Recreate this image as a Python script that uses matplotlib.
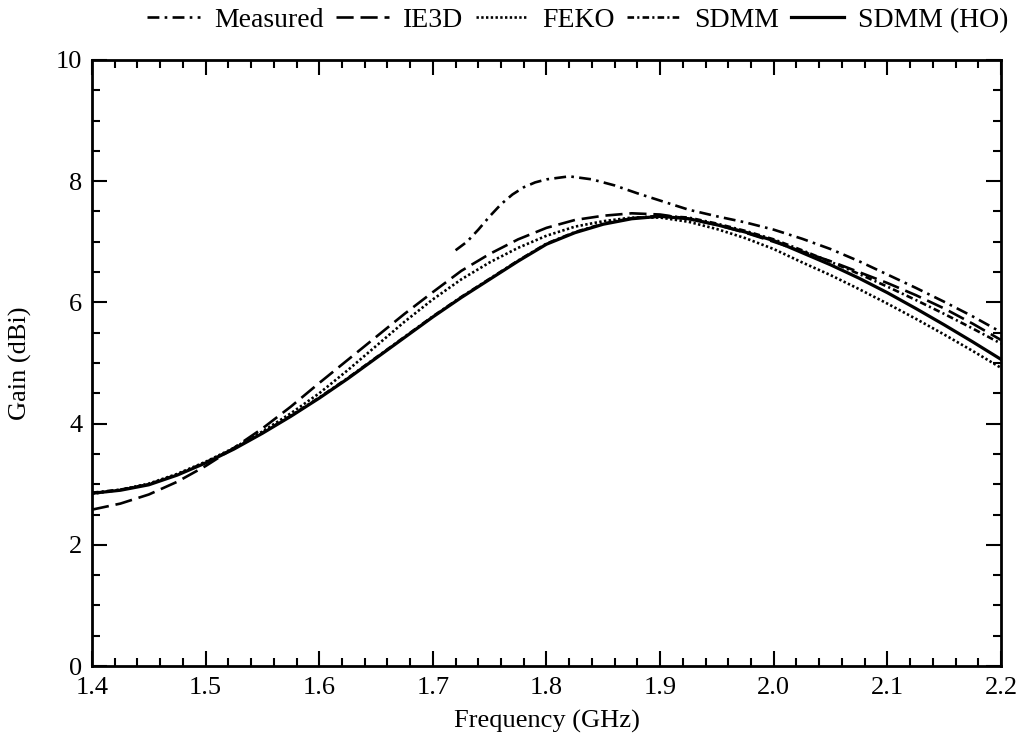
import numpy as np
import matplotlib
matplotlib.use("Agg")
import matplotlib.pyplot as plt
from matplotlib.ticker import MultipleLocator

plt.rcParams['font.family'] = ['Liberation Serif', 'DejaVu Serif']
plt.rcParams['mathtext.fontset'] = 'stix'

# frequencia (GHz) para las simulaciones
freq = [1.400, 1.425, 1.450, 1.475, 1.500, 1.525, 1.550, 1.575, 1.600, 1.625,
        1.650, 1.675, 1.700, 1.725, 1.750, 1.775, 1.800, 1.825, 1.850, 1.875,
        1.900, 1.925, 1.950, 1.975, 2.000, 2.025, 2.050, 2.075, 2.100, 2.125,
        2.150, 2.175, 2.200]

ie3d = [2.58, 2.68, 2.83, 3.04, 3.30, 3.60, 3.92, 4.28, 4.67, 5.05,
        5.43, 5.81, 6.17, 6.52, 6.80, 7.04, 7.23, 7.36, 7.43, 7.47,
        7.45, 7.38, 7.28, 7.15, 7.00, 6.84, 6.68, 6.50, 6.32, 6.12,
        5.90, 5.65, 5.38]

feko = [2.84, 2.91, 3.01, 3.17, 3.37, 3.60, 3.87, 4.17, 4.50, 4.88,
        5.28, 5.68, 6.05, 6.38, 6.66, 6.90, 7.10, 7.25, 7.34, 7.40,
        7.40, 7.33, 7.21, 7.06, 6.88, 6.66, 6.45, 6.22, 5.98, 5.73,
        5.47, 5.20, 4.92]

sdmm = [2.86, 2.91, 3.00, 3.16, 3.36, 3.59, 3.85, 4.13, 4.43, 4.75,
        5.09, 5.43, 5.77, 6.09, 6.39, 6.69, 6.97, 7.16, 7.30, 7.39,
        7.43, 7.40, 7.30, 7.18, 7.04, 6.86, 6.67, 6.47, 6.26, 6.04,
        5.81, 5.57, 5.32]

sdmm_ho = [2.85, 2.90, 2.99, 3.15, 3.35, 3.58, 3.84, 4.12, 4.42, 4.74,
           5.08, 5.42, 5.76, 6.08, 6.38, 6.68, 6.96, 7.15, 7.29, 7.38,
           7.42, 7.38, 7.28, 7.16, 7.02, 6.82, 6.62, 6.40, 6.16, 5.90,
           5.63, 5.35, 5.06]

freq_med = [1.72, 1.73, 1.74, 1.75, 1.76, 1.77, 1.78, 1.79, 1.80, 1.82,
            1.84, 1.86, 1.88, 1.90, 1.925, 1.95, 1.975, 2.00, 2.025, 2.05,
            2.075, 2.10, 2.125, 2.15, 2.175, 2.20]
medido = [6.86, 7.00, 7.20, 7.42, 7.62, 7.78, 7.90, 7.98, 8.03, 8.08,
          8.03, 7.93, 7.80, 7.68, 7.53, 7.42, 7.32, 7.20, 7.05, 6.88,
          6.68, 6.46, 6.24, 6.01, 5.77, 5.51]

fig = plt.figure(figsize=(10.21, 7.36), dpi=100)
ax = fig.add_axes([0.0901, 0.0951, 0.8903, 0.8234])

lw = 1.9
ax.plot(freq_med, medido, color='black', lw=lw, linestyle=(0, (4.5, 2, 1, 2)), label='Measured')
ax.plot(freq, ie3d, color='black', lw=lw, linestyle=(0, (6.5, 2.6)), label='IE3D')
ax.plot(freq, feko, color='black', lw=lw, linestyle=(0, (0.9, 0.9)), label='FEKO')
ax.plot(freq, sdmm, color='black', lw=lw, linestyle=(0, (2.5, 1.2, 0.8, 1.2)), label='SDMM')
ax.plot(freq, sdmm_ho, color='black', lw=lw + 0.4, linestyle='-', label='SDMM (HO)')

ax.set_xlim(1.4, 2.2)
ax.set_ylim(0, 10)
ax.xaxis.set_major_locator(MultipleLocator(0.1))
ax.xaxis.set_minor_locator(MultipleLocator(0.02))
ax.yaxis.set_major_locator(MultipleLocator(2))
ax.yaxis.set_minor_locator(MultipleLocator(0.5))
ax.set_xticklabels([f'{v:.1f}' for v in ax.get_xticks()])

for s in ax.spines.values():
    s.set_linewidth(2)
ax.tick_params(which='both', direction='in', top=True, right=True, labelsize=19, width=1.5)
ax.tick_params(which='major', length=11)
ax.tick_params(axis='x', which='major', pad=8)
ax.tick_params(axis='y', which='major', pad=7)
ax.tick_params(which='minor', length=6)

ax.set_xlabel('Frequency (GHz)', fontsize=19, labelpad=8)
ax.set_ylabel('Gain (dBi)', fontsize=19, labelpad=17)

ax.legend(loc='lower right', bbox_to_anchor=(1.008, 1.045), ncol=5, frameon=False,
          fontsize=20, handlelength=1.9, handletextpad=0.5, columnspacing=0.45,
          borderaxespad=0.0, borderpad=0.0)

fig.savefig('out.png', dpi=100)
